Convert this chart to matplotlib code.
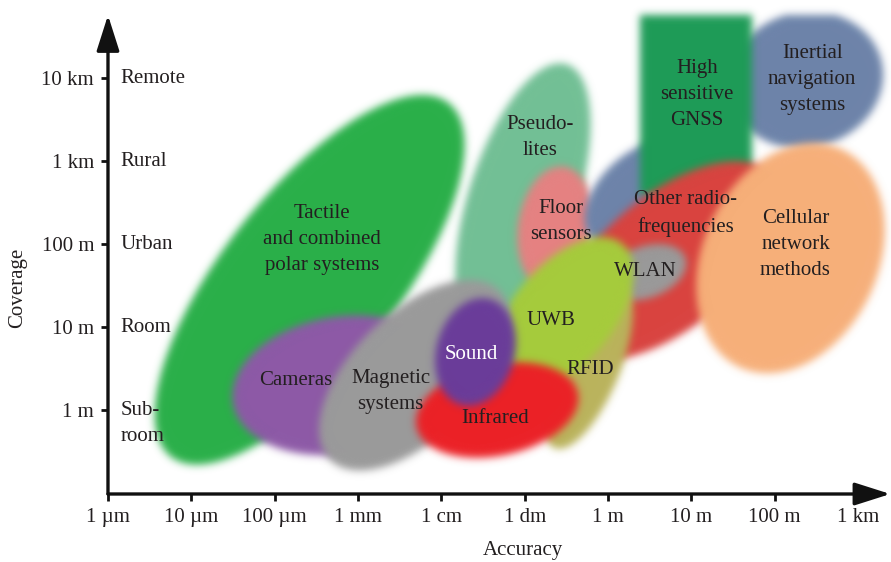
import numpy as np
import matplotlib
matplotlib.use('Agg')
import matplotlib.pyplot as plt
from matplotlib.patches import Ellipse, Rectangle

plt.rcParams['font.family'] = ['Liberation Serif', 'DejaVu Serif']

# axis ticks, log10 of metres
acc_exp = [-6, -5, -4, -3, -2, -1, 0, 1, 2, 3]
acc_labels = ['1 µm', '10 µm', '100 µm', '1 mm', '1 cm', '1 dm', '1 m', '10 m', '100 m', '1 km']
cov_exp = [0, 1, 2, 3, 4]
cov_labels = ['1 m', '10 m', '100 m', '1 km', '10 km']
cov_names = ['Sub-\nroom', 'Room', 'Urban', 'Rural', 'Remote']

# technologies (drawn in this order): centre and extent in decades, tilt in degrees
tech_names = ['Tactile', 'Pseudolites', 'Floor sensors', 'Inertial', 'Inertial', 'GNSS', 'Other radio',
              'WLAN', 'Cellular', 'RFID', 'UWB', 'Cameras', 'Magnetic', 'Infrared', 'Sound']
tech_x = [-3.58, -1.02, -0.63, 2.37, 0.45, 1.06, 0.75, 0.45, 2.19, -0.24, -0.54, -3.22, -2.32, -1.33, -1.59]
tech_y = [1.57, 2.55, 2.19, 3.98, 2.59, 3.69, 1.80, 1.66, 1.83, 0.54, 1.15, 0.30, 0.42, 0.00, 0.70]
tech_w = [5.41, 3.40, 0.90, 1.88, 1.68, 1.34, 3.20, 1.02, 2.10, 2.15, 2.22, 2.60, 2.88, 1.98, 0.94]
tech_h = [2.10, 1.30, 1.50, 1.63, 1.08, 2.19, 1.60, 0.62, 2.90, 0.78, 1.20, 1.65, 1.50, 1.10, 1.32]
tech_angle = [52, 72, -8, 15, 40, 0, 40, 20, -25, 68, 50, 10, 45, 12, -15]
tech_colors = ['#2ab04a', '#72c095', '#e58282', '#6d84aa', '#6d84aa', '#1e9c57', '#d94440',
               '#9a9a9a', '#f7b07a', '#bab35c', '#a6cc3c', '#8d5aa7', '#9b9b9b', '#ec2227', '#6a3d9a']

# labels
label_text = ['Tactile\nand combined\npolar systems', 'Pseudo-\nlites', 'Floor\nsensors',
              'Inertial\nnavigation\nsystems', 'High\nsensitive\nGNSS', 'Other radio-\nfrequencies',
              'WLAN', 'Cellular\nnetwork\nmethods', 'RFID', 'UWB', 'Cameras', 'Magnetic\nsystems',
              'Infrared', 'Sound']
label_x = [-3.43, -0.81, -0.57, 2.45, 1.07, 0.93, 0.45, 2.25, -0.21, -0.69, -3.75, -2.61, -1.35, -1.64]
label_y = [2.05, 3.28, 2.27, 3.98, 3.80, 2.37, 1.67, 1.99, 0.49, 1.08, 0.35, 0.22, -0.10, 0.67]


def blur(img, dpi, sigma=4.0):
    pad = int(3 * sigma)
    im = np.pad(img, [(pad, pad), (pad, pad), (0, 0)], 'constant')
    a = im[..., 3:4]
    pm = np.concatenate([im[..., :3] * a, a], axis=2)
    k = np.exp(-0.5 * (np.arange(-pad, pad + 1) / sigma) ** 2)
    k /= k.sum()
    for axis in (0, 1):
        out = np.zeros_like(pm)
        for i, kv in enumerate(k):
            out += kv * np.roll(pm, i - pad, axis=axis)
        pm = out
    alpha = pm[..., 3:4]
    rgb = np.where(alpha > 1e-4, pm[..., :3] / np.maximum(alpha, 1e-4), 0)
    return np.concatenate([np.clip(rgb, 0, 1), alpha], axis=2), -pad, -pad


fig = plt.figure(figsize=(8.91, 5.62), dpi=100)
ax = fig.add_axes([0.1212, 0.121, 0.878, 0.852])
ax.set_xlim(-6, 3.388)
ax.set_ylim(-1.012, 4.759)

for i, name in enumerate(tech_names):
    if name == 'GNSS':
        p = Rectangle((tech_x[i] - tech_w[i] / 2, tech_y[i] - tech_h[i] / 2), tech_w[i], tech_h[i],
                      color=tech_colors[i], lw=0)
    else:
        p = Ellipse((tech_x[i], tech_y[i]), tech_w[i], tech_h[i], angle=tech_angle[i],
                    color=tech_colors[i], lw=0)
    p.set_agg_filter(blur)
    ax.add_patch(p)

for i, t in enumerate(label_text):
    ax.text(label_x[i], label_y[i], t, ha='center', va='center', fontsize=15,
            linespacing=1.5, color='white' if t == 'Sound' else '#231f20', zorder=5)

for e, n in zip(cov_exp, cov_names):
    ax.text(-5.85, e - (0.16 if '\n' in n else 0), n, ha='left', va='center', fontsize=15,
            linespacing=1.5, color='#231f20', zorder=5)

for s in ax.spines.values():
    s.set_visible(False)
ax.annotate('', xy=(0, 1), xytext=(0, 0), xycoords='axes fraction',
            arrowprops=dict(arrowstyle='-|>,head_length=1.1,head_width=0.35', lw=2.4,
                            color='#111111', shrinkA=0, shrinkB=0, mutation_scale=20))
ax.annotate('', xy=(1, 0), xytext=(0, 0), xycoords='axes fraction',
            arrowprops=dict(arrowstyle='-|>,head_length=1.1,head_width=0.35', lw=2.4,
                            color='#111111', shrinkA=0, shrinkB=0, mutation_scale=20))

ax.set_xticks(acc_exp, acc_labels)
ax.set_yticks(cov_exp, cov_labels)
ax.tick_params(length=5, width=2, color='#111111', labelsize=15, labelcolor='#231f20', pad=5)

fig.text(18 / 891, 1 - 288 / 562, 'Coverage', rotation=90, ha='center', va='center',
         fontsize=15, color='#231f20')
fig.text(523 / 891, 1 - 551 / 562, 'Accuracy', ha='center', va='center',
         fontsize=15, color='#231f20')

fig.savefig('out.png', dpi=100)
